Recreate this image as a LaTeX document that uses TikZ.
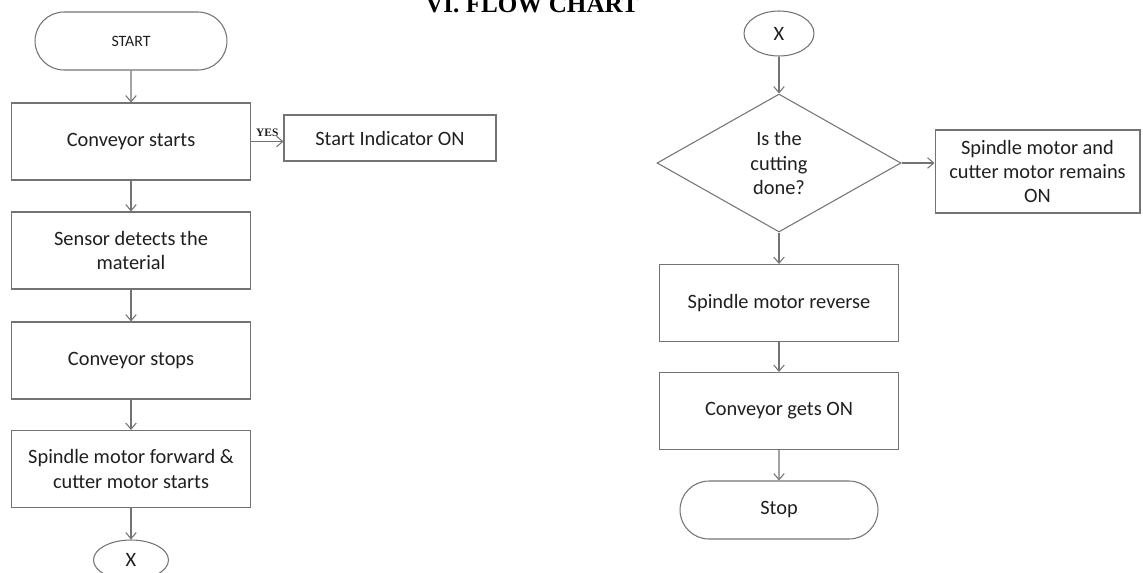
\documentclass[tikz,border=0pt]{standalone}
\usepackage{fontspec}
\setmainfont{Carlito}
\newfontfamily\titlefont{Liberation Serif}
\usetikzlibrary{shapes,shapes.geometric,shapes.misc,arrows.meta,positioning}
\definecolor{linegray}{gray}{0.45}
\definecolor{textgray}{gray}{0.12}
\tikzset{
	procbox/.style={rectangle,draw=linegray,line width=0.6pt,minimum width=4.78cm,minimum height=1.54cm,align=center,text=textgray,font=\fontsize{11.6}{13.7}\selectfont,inner sep=0},
	termbox/.style={rounded rectangle,draw=linegray,line width=0.6pt,minimum width=3.84cm,minimum height=1.16cm,text=textgray,inner sep=0},
	connbox/.style={ellipse,draw=linegray,line width=0.6pt,text=textgray,font=\fontsize{11.6}{13}\selectfont,inner sep=0},
	decbox/.style={diamond,draw=linegray,line width=0.6pt,minimum width=4.88cm,minimum height=2.76cm,align=center,text=textgray,font=\fontsize{11.6}{13.7}\selectfont,inner sep=0},
	flow/.style={->,>={Straight Barb[length=3.5pt,width=6pt]},draw=linegray,line width=0.6pt}
}

\begin{document}
\begin{tikzpicture}[x=0.02cm,y=-0.02cm]
	\useasboundingbox (0,0) rectangle (1143,572);
	%%% title, cut at the top edge
	\node[anchor=base,font=\titlefont\bfseries\fontsize{14.3}{16}\selectfont] (title) at (532,12) {VI. FLOW CHART};

	%%% left column
	\node[termbox,font=\fontsize{9}{10}\selectfont] (start) at (131,41) {START};
	\node[procbox] (convstart) at (131,141.5) {Conveyor starts};
	\node[procbox,minimum width=4.24cm,minimum height=0.92cm] (indicator) at (390,138) {Start Indicator ON};
	\node[procbox] (sensor) at (131,250.5) {Sensor detects the\\material};
	\node[procbox] (convstop) at (131,360.5) {Conveyor stops};
	\node[procbox] (forward) at (131,469) {Spindle motor forward \&\\cutter motor starts};
	\node[connbox,minimum width=1.5cm,minimum height=0.8cm] (xleft) at (131,560) {X};

	%%% right column
	\node[connbox,minimum width=1.4cm,minimum height=0.9cm] (xright) at (779,33.5) {X};
	\node[decbox] (cutdone) at (779,163) {Is the\\cutting\\done?};
	\node[procbox,minimum width=4.1cm,minimum height=1.66cm] (remains) at (1037.5,171.5) {Spindle motor and\\cutter motor remains\\ON};
	\node[procbox] (reverse) at (779,303) {Spindle motor reverse};
	\node[procbox] (getson) at (779,411) {Conveyor gets ON};
	\node[termbox,minimum width=3.96cm,font=\fontsize{11.6}{13}\selectfont] (stop) at (779,510) {Stop};

	\draw[flow] (start) -- (convstart);
	\draw[flow] (convstart.east) -- node[above,yshift=-1pt,font=\titlefont\bfseries\fontsize{6.5}{7}\selectfont,text=textgray] {YES} (convstart.east -| indicator.west);
	\draw[flow] (convstart) -- (sensor);
	\draw[flow] (sensor) -- (convstop);
	\draw[flow] (convstop) -- (forward);
	\draw[flow] (forward) -- (xleft);

	\draw[flow] (xright) -- (cutdone);
	\draw[flow] (cutdone.east) -- (cutdone.east -| remains.west);
	\draw[flow] (cutdone) -- (reverse);
	\draw[flow] (reverse) -- (getson);
	\draw[flow] (getson) -- (stop);

\end{tikzpicture}
\end{document}
